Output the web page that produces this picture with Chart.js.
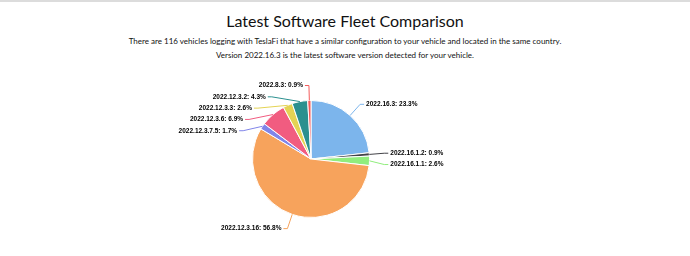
<!DOCTYPE html>
<html lang="en">
<head>
<meta charset="UTF-8">
<title>Latest Software Fleet Comparison</title>
<style>
  html, body { margin: 0; padding: 0; background: #fff; }
  body { width: 690px; height: 256px; position: relative; overflow: hidden; font-family: Lato, "Noto Sans", sans-serif; color: #111; }
  #topbar { position: absolute; left: 0; top: 0; width: 690px; height: 2px; background: #dcdcdc; }
  .line { position: absolute; left: 0; width: 690px; text-align: center; white-space: nowrap; }
  #title { top: 11px; font-size: 16px; line-height: 20px; }
  #sub1 { top: 36px; font-size: 8px; line-height: 10px; }
  #sub2 { top: 50px; font-size: 8px; line-height: 10px; }
  #chart { position: absolute; left: 0; top: 0; }
</style>
</head>
<body>
<div id="topbar"></div>
<div class="line" id="title">Latest Software Fleet Comparison</div>
<div class="line" id="sub1">There are 116 vehicles logging with TeslaFi that have a similar configuration to your vehicle and located in the same country.</div>
<div class="line" id="sub2">Version 2022.16.3 is the latest software version detected for your vehicle.</div>
<canvas id="chart" width="690" height="256"></canvas>

<script src="https://cdn.jsdelivr.net/npm/chart.js@4/dist/chart.umd.min.js"></script>
<script>
// software versions, clockwise from 12 o'clock
const versions = ['2022.16.3', '2022.16.1.2', '2022.16.1.1', '2022.12.3.16', '2022.12.3.7.5', '2022.12.3.6', '2022.12.3.3', '2022.12.3.2', '2022.8.3'];
const sharePct = [23.3, 0.9, 2.6, 56.8, 1.7, 6.9, 2.6, 4.3, 0.9];
const sliceColors = ['#7cb5ec', '#434348', '#90ed7d', '#f7a35c', '#8085e9', '#f15c80', '#e4d354', '#2b908f', '#f45b5b'];

// outside labels with connectors, roughly like the highcharts ones
const sliceLabels = {
    id: 'sliceLabels',
    afterDatasetsDraw(chart) {
        const ctx = chart.ctx;
        const arcs = chart.getDatasetMeta(0).data;
        const values = chart.data.datasets[0].data;
        const dist = 15, gap = 11.3;

        const items = arcs.map((arc, i) => {
            const p = arc.getProps(['x', 'y', 'startAngle', 'endAngle', 'outerRadius'], true);
            const a = (p.startAngle + p.endAngle) / 2;
            const R = p.outerRadius + dist;
            return { i, a, cx: p.x, cy: p.y, r: p.outerRadius, R, y: p.y + Math.sin(a) * R, right: Math.cos(a) >= 0 };
        });

        [true, false].forEach(side => {
            const list = items.filter(it => it.right === side).sort((m, n) => m.y - n.y);
            for (let k = 1; k < list.length; k++) {
                if (list[k].y < list[k - 1].y + gap) list[k].y = list[k - 1].y + gap;
            }
        });

        ctx.save();
        ctx.font = 'bold 6.5px "Liberation Sans", Arial, sans-serif';
        ctx.textBaseline = 'middle';
        items.forEach(it => {
            const dy = it.y - it.cy;
            const dx = Math.abs(dy) < it.R ? Math.sqrt(it.R * it.R - dy * dy) : 0;
            const dir = it.right ? 1 : -1;
            const ax = it.cx + dir * dx;
            const ex = it.cx + Math.cos(it.a) * it.r;
            const ey = it.cy + Math.sin(it.a) * it.r;

            ctx.strokeStyle = sliceColors[it.i];
            ctx.lineWidth = 1;
            ctx.beginPath();
            ctx.moveTo(ex, ey);
            ctx.lineTo(ax, it.y);
            ctx.lineTo(ax + dir * 4, it.y);
            ctx.stroke();

            const txt = versions[it.i] + ': ' + values[it.i].toFixed(1) + '%';
            const tx = ax + dir * 6;
            ctx.textAlign = it.right ? 'left' : 'right';
            ctx.lineJoin = 'round';
            ctx.strokeStyle = '#fff';
            ctx.lineWidth = 2;
            ctx.strokeText(txt, tx, it.y);
            ctx.fillStyle = '#000';
            ctx.fillText(txt, tx, it.y);
        });
        ctx.restore();
    }
};

new Chart(document.getElementById('chart'), {
    type: 'pie',
    data: {
        labels: versions,
        datasets: [{
            data: sharePct,
            backgroundColor: sliceColors,
            borderColor: '#ffffff',
            borderWidth: 1,
            hoverOffset: 0
        }]
    },
    options: {
        responsive: false,
        animation: false,
        devicePixelRatio: 1,
        layout: { padding: { left: 252, right: 320, top: 100, bottom: 38 } },
        plugins: {
            legend: { display: false },
            tooltip: { enabled: false }
        },
        events: []
    },
    plugins: [sliceLabels]
});
</script>
</body>
</html>
